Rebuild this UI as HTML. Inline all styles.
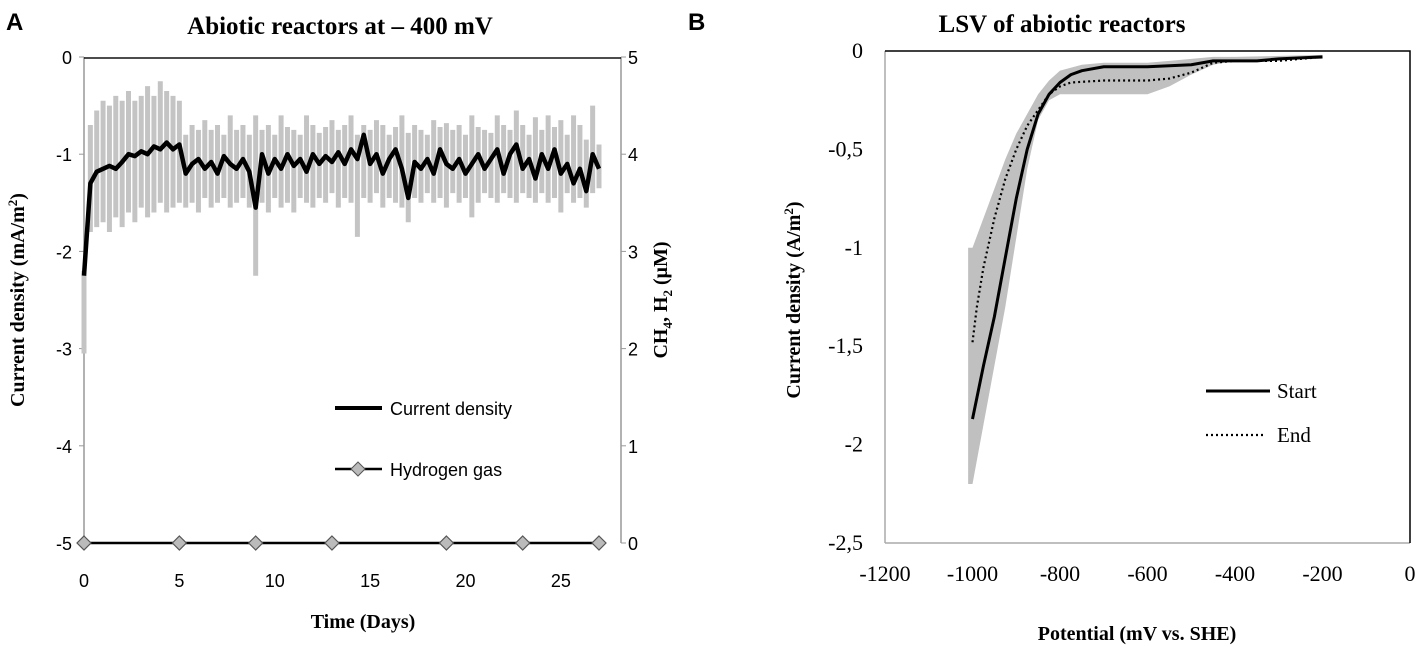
<!DOCTYPE html>
<html><head><meta charset="utf-8"><style>
html,body{margin:0;padding:0;background:#fff}
svg{display:block}
.sans{font-family:"Liberation Sans",sans-serif}
.serif{font-family:"Liberation Serif",serif}
</style></head><body>
<svg id="fig" width="1418" height="651" xmlns="http://www.w3.org/2000/svg">
<text x="6" y="30" class="sans" font-size="24" font-weight="bold">A</text>
<text x="340" y="34" class="serif" font-size="25" font-weight="bold" text-anchor="middle">Abiotic reactors at – 400 mV</text>
<text x="688" y="30" class="sans" font-size="24" font-weight="bold">B</text>
<text x="1062" y="32" class="serif" font-size="25" font-weight="bold" text-anchor="middle">LSV of abiotic reactors</text>
<g id="ga"></g><g id="gb"></g>
</svg>
<script>
// ---- Chart A data ----
const curBlack=[-2.25,-1.3,-1.18,-1.15,-1.12,-1.15,-1.08,-1.0,-1.02,-0.97,-1.0,-0.92,-0.95,-0.88,-0.95,-0.9,-1.2,-1.1,-1.05,-1.15,-1.08,-1.2,-1.02,-1.1,-1.15,-1.05,-1.18,-1.55,-1.0,-1.2,-1.05,-1.15,-1.0,-1.12,-1.05,-1.18,-1.0,-1.1,-1.02,-1.08,-0.98,-1.1,-0.95,-1.05,-0.8,-1.1,-1.0,-1.2,-1.05,-0.95,-1.15,-1.45,-1.08,-1.15,-1.05,-1.2,-0.95,-1.1,-1.15,-1.05,-1.2,-1.1,-1.0,-1.15,-1.05,-0.95,-1.2,-1.0,-0.9,-1.15,-1.05,-1.25,-1.0,-1.15,-0.95,-1.2,-1.1,-1.3,-1.15,-1.38,-1.0,-1.15];
const curUpper=[-2.2,-0.7,-0.55,-0.45,-0.5,-0.4,-0.45,-0.35,-0.45,-0.4,-0.3,-0.4,-0.25,-0.35,-0.4,-0.45,-0.8,-0.7,-0.75,-0.65,-0.75,-0.7,-0.8,-0.6,-0.75,-0.7,-0.8,-0.6,-0.75,-0.7,-0.8,-0.6,-0.72,-0.75,-0.8,-0.6,-0.7,-0.78,-0.72,-0.65,-0.75,-0.7,-0.6,-0.8,-0.7,-0.75,-0.65,-0.7,-0.8,-0.72,-0.6,-0.78,-0.7,-0.75,-0.8,-0.65,-0.72,-0.68,-0.75,-0.7,-0.8,-0.6,-0.72,-0.75,-0.78,-0.6,-0.7,-0.75,-0.55,-0.7,-0.8,-0.62,-0.75,-0.6,-0.72,-0.65,-0.8,-0.6,-0.7,-0.85,-0.5,-0.9];
const curLower=[-3.05,-1.8,-1.75,-1.7,-1.8,-1.65,-1.75,-1.6,-1.7,-1.55,-1.65,-1.6,-1.5,-1.6,-1.55,-1.5,-1.55,-1.5,-1.6,-1.45,-1.55,-1.5,-1.45,-1.55,-1.5,-1.45,-1.55,-2.25,-1.5,-1.6,-1.45,-1.55,-1.5,-1.6,-1.45,-1.5,-1.55,-1.45,-1.5,-1.4,-1.55,-1.45,-1.5,-1.85,-1.45,-1.5,-1.4,-1.55,-1.45,-1.5,-1.55,-1.7,-1.45,-1.5,-1.4,-1.5,-1.45,-1.55,-1.4,-1.5,-1.45,-1.65,-1.5,-1.4,-1.45,-1.5,-1.4,-1.45,-1.5,-1.4,-1.45,-1.5,-1.4,-1.5,-1.45,-1.6,-1.4,-1.5,-1.45,-1.55,-1.4,-1.35];
const curDayEnd=27;
const h2Days=[0,5,9,13,19,23,27];
const h2Vals=[0,0,0,0,0,0,0];
const aXTicks=[0,5,10,15,20,25];
const aYTicks=[0,-1,-2,-3,-4,-5];
const aY2Ticks=[5,4,3,2,1,0];
// ---- Chart B data ----
const startX=[-1000,-975,-950,-925,-900,-875,-850,-825,-800,-775,-750,-700,-600,-500,-450,-400,-350,-300,-250,-200];
const startY=[-1.87,-1.6,-1.35,-1.05,-0.75,-0.5,-0.32,-0.22,-0.16,-0.12,-0.1,-0.08,-0.08,-0.07,-0.05,-0.05,-0.05,-0.04,-0.035,-0.03];
const endX=[-1000,-990,-975,-950,-925,-900,-875,-850,-825,-800,-775,-700,-600,-550,-500,-450,-400,-300,-200];
const endY=[-1.48,-1.3,-1.1,-0.85,-0.65,-0.5,-0.38,-0.3,-0.22,-0.18,-0.16,-0.15,-0.15,-0.14,-0.11,-0.06,-0.05,-0.05,-0.03];
const bandX=[-1010,-1000,-975,-950,-925,-900,-875,-850,-825,-800,-750,-700,-600,-550,-500,-450,-400,-200];
const bandUp=[-1.0,-1.0,-0.85,-0.7,-0.55,-0.42,-0.32,-0.22,-0.15,-0.1,-0.07,-0.06,-0.06,-0.05,-0.04,-0.03,-0.03,-0.02];
const bandLo=[-2.2,-2.2,-1.9,-1.6,-1.3,-0.95,-0.6,-0.35,-0.25,-0.22,-0.22,-0.22,-0.22,-0.18,-0.12,-0.07,-0.05,-0.04];
const bXTicks=[-1200,-1000,-800,-600,-400,-200,0];
const bYTicks=[0,-0.5,-1,-1.5,-2,-2.5];

const NS="http://www.w3.org/2000/svg";
function mk(p,tag,attrs,txt){const e=document.createElementNS(NS,tag);for(const k in attrs)e.setAttribute(k,attrs[k]);if(txt!==undefined)e.textContent=txt;p.appendChild(e);return e;}

// Chart A
const ga=document.getElementById('ga');
const ax=d=>84+d*(599-84)/27, ay=v=>57+(-v)*97.2, ay2=v=>543-v*97.2;
let e;
e=mk(ga,'line',{x1:84,y1:57,x2:84,y2:543,stroke:'#999','stroke-width':1.5});


e=mk(ga,'line',{x1:621,y1:57,x2:621,y2:543,stroke:'#999','stroke-width':1.5});


e=mk(ga,'line',{x1:84,y1:58,x2:621,y2:58,stroke:'#111','stroke-width':1.5});


aYTicks.forEach(v=>{
 e=mk(ga,'text',{x:72,y:ay(v)+7,'text-anchor':'end','font-size':18,class:'sans'},String(v));
 
 
 mk(ga,'line',{x1:79,y1:ay(v),x2:84,y2:ay(v),stroke:'#999'});
});
aY2Ticks.forEach(v=>{
 e=mk(ga,'text',{x:628,y:ay2(v)+7,'font-size':18,class:'sans'},String(v));
 
 
 mk(ga,'line',{x1:621,y1:ay2(v),x2:626,y2:ay2(v),stroke:'#999'});
});
aXTicks.forEach(v=>{
 e=mk(ga,'text',{x:ax(v),y:587,'text-anchor':'middle','font-size':18,class:'sans'},String(v));
 
 
});
const nA=curBlack.length;
const dx=i=>ax(i*curDayEnd/(nA-1));
for(let i=0;i<nA;i++){
 const x=dx(i);
 e=mk(ga,'line',{x1:x,y1:ay(curUpper[i]),x2:x,y2:ay(curLower[i]),stroke:'#c4c4c4','stroke-width':5});
 
 
}
e=mk(ga,'polyline',{points:curBlack.map((v,i)=>dx(i)+','+ay(v)).join(' '),fill:'none',stroke:'#000','stroke-width':4.5,'stroke-linejoin':'round'});


e=mk(ga,'polyline',{points:h2Days.map((d,i)=>ax(d)+','+ay2(h2Vals[i])).join(' '),fill:'none',stroke:'#000','stroke-width':2.5});


h2Days.forEach((d,i)=>{
 const x=ax(d),y=ay2(h2Vals[i]);
 e=mk(ga,'polygon',{points:`${x},${y-7} ${x+7},${y} ${x},${y+7} ${x-7},${y}`,fill:'#bbb',stroke:'#555','stroke-width':1.2});
 
 
});
// legend A
e=mk(ga,'line',{x1:335,y1:408,x2:382,y2:408,stroke:'#000','stroke-width':4});


e=mk(ga,'text',{x:390,y:415,'font-size':18,class:'sans'},'Current density');


e=mk(ga,'line',{x1:335,y1:469,x2:382,y2:469,stroke:'#000','stroke-width':2.5});


mk(ga,'polygon',{points:'358,462 365,469 358,476 351,469',fill:'#bbb',stroke:'#555'});
e=mk(ga,'text',{x:390,y:476,'font-size':18,class:'sans'},'Hydrogen gas');


e=mk(ga,'text',{x:363,y:628,'text-anchor':'middle','font-size':20,'font-weight':'bold',class:'serif'},'Time (Days)');


e=mk(ga,'text',{transform:'translate(24,300) rotate(-90)','text-anchor':'middle','font-size':20,'font-weight':'bold',class:'serif'});
e.innerHTML='Current density (mA/m<tspan dy="-7" font-size="13">2</tspan><tspan dy="7">)</tspan>';


e=mk(ga,'text',{transform:'translate(667,300) rotate(-90)','text-anchor':'middle','font-size':20,'font-weight':'bold',class:'serif'});
e.innerHTML='CH<tspan dy="5" font-size="13">4</tspan><tspan dy="-5">, H</tspan><tspan dy="5" font-size="13">2</tspan><tspan dy="-5"> (μM)</tspan>';



// Chart B
const gb=document.getElementById('gb');
const BL=885,BR=1410,BT=51,BB=543;
const bx=v=>BL+(v+1200)*(BR-BL)/1200, by=v=>BT+(-v)*(BB-BT)/2.5;
let pts=bandX.map((x,i)=>bx(x)+','+by(bandUp[i]));
for(let i=bandX.length-1;i>=0;i--)pts.push(bx(bandX[i])+','+by(bandLo[i]));
e=mk(gb,'polygon',{points:pts.join(' '),fill:'#c0c0c0'});


e=mk(gb,'line',{x1:BL,y1:BT,x2:BL,y2:BB,stroke:'#aaa','stroke-width':1.5});


e=mk(gb,'line',{x1:BL,y1:BB,x2:BR,y2:BB,stroke:'#aaa','stroke-width':1.5});


e=mk(gb,'polyline',{points:`${BL},${BT} ${BR},${BT} ${BR},${BB}`,fill:'none',stroke:'#000','stroke-width':1.5});


e=mk(gb,'polyline',{points:startX.map((x,i)=>bx(x)+','+by(startY[i])).join(' '),fill:'none',stroke:'#000','stroke-width':3,'stroke-linejoin':'round'});


e=mk(gb,'polyline',{points:endX.map((x,i)=>bx(x)+','+by(endY[i])).join(' '),fill:'none',stroke:'#000','stroke-width':2.2,'stroke-dasharray':'2,3'});


bYTicks.forEach(v=>{
 e=mk(gb,'text',{x:863,y:by(v)+7,'text-anchor':'end','font-size':22,class:'serif'},String(v).replace('.',','));
 
 
});
bXTicks.forEach(v=>{
 e=mk(gb,'text',{x:bx(v),y:581,'text-anchor':'middle','font-size':22,class:'serif'},String(v));
 
 
});
e=mk(gb,'line',{x1:1206,y1:391,x2:1270,y2:391,stroke:'#000','stroke-width':3});


e=mk(gb,'text',{x:1277,y:398,'font-size':21,class:'serif'},'Start');


e=mk(gb,'line',{x1:1206,y1:435,x2:1265,y2:435,stroke:'#000','stroke-width':2.2,'stroke-dasharray':'2,3'});


e=mk(gb,'text',{x:1277,y:442,'font-size':21,class:'serif'},'End');


e=mk(gb,'text',{x:1137,y:640,'text-anchor':'middle','font-size':20,'font-weight':'bold',class:'serif'},'Potential (mV vs. SHE)');


e=mk(gb,'text',{transform:'translate(800,300) rotate(-90)','text-anchor':'middle','font-size':20,'font-weight':'bold',class:'serif'});
e.innerHTML='Current density (A/m<tspan dy="-7" font-size="13">2</tspan><tspan dy="7">)</tspan>';


</script>
</body></html>
